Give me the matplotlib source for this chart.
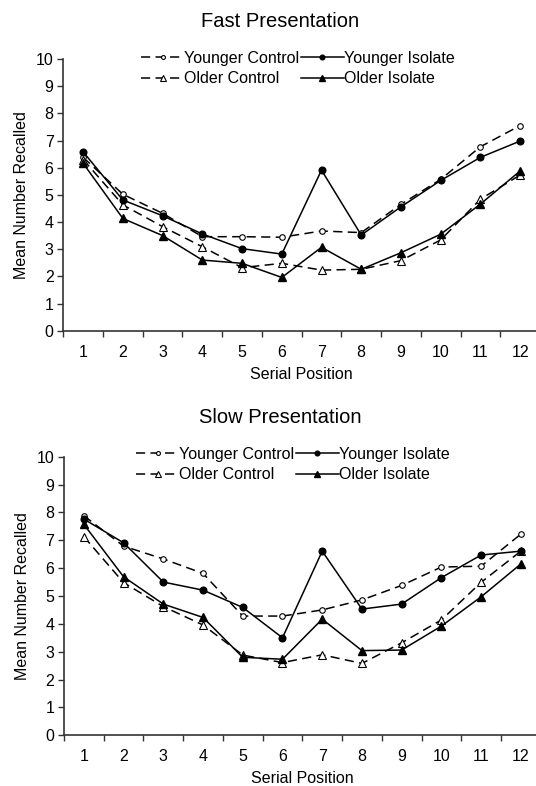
import matplotlib
matplotlib.use('Agg')
import matplotlib.pyplot as plt
import numpy as np

plt.rcParams['font.family'] = ['Liberation Sans', 'DejaVu Sans']

positions = list(range(1, 13))

# Fast presentation
fast_young_control = [6.38, 5.02, 4.32, 3.46, 3.46, 3.44, 3.67, 3.61, 4.65, 5.57, 6.77, 7.55]
fast_young_isolate = [6.58, 4.81, 4.23, 3.56, 3.02, 2.82, 5.91, 3.52, 4.56, 5.53, 6.38, 6.98]
fast_old_control = [6.30, 4.63, 3.83, 3.09, 2.32, 2.48, 2.23, 2.26, 2.58, 3.34, 4.84, 5.73]
fast_old_isolate = [6.16, 4.13, 3.50, 2.60, 2.48, 1.96, 3.07, 2.26, 2.87, 3.55, 4.66, 5.88]

# Slow presentation
slow_young_control = [7.88, 6.79, 6.33, 5.81, 4.28, 4.28, 4.50, 4.86, 5.38, 6.04, 6.07, 7.22]
slow_young_isolate = [7.76, 6.91, 5.50, 5.21, 4.59, 3.50, 6.61, 4.53, 4.71, 5.66, 6.47, 6.61]
slow_old_control = [7.13, 5.48, 4.62, 3.96, 2.88, 2.61, 2.89, 2.58, 3.32, 4.14, 5.49, 6.61]
slow_old_isolate = [7.57, 5.69, 4.71, 4.23, 2.80, 2.73, 4.17, 3.04, 3.06, 3.92, 4.97, 6.15]

W, H = 536, 786
fig = plt.figure(figsize=(W / 100, H / 100), dpi=100)

spine_col = '#333333'


def draw_panel(rect, title, title_base, legend_xy, yc, yi, oc, oi):
    ax = fig.add_axes(rect)
    dash = (6, 3.5)
    ax.plot(positions, yc, color='k', lw=1.1, dashes=dash, marker='o', ms=4,
            mfc='white', mec='k', mew=0.8, label='Younger Control')
    ax.plot(positions, oc, color='k', lw=1.1, dashes=dash, marker='^', ms=5.5,
            mfc='white', mec='k', mew=0.8, label='Older Control')
    ax.plot(positions, yi, color='k', lw=1.1, marker='o', ms=4.8,
            mfc='k', mec='k', label='Younger Isolate')
    ax.plot(positions, oi, color='k', lw=1.1, marker='^', ms=6.3,
            mfc='k', mec='k', label='Older Isolate')

    ax.set_xlim(0.5, 12.5)
    ax.set_ylim(0, 10)
    ax.set_yticks(range(0, 11))
    ax.set_xticks(np.arange(0.5, 12.6, 1.0))
    ax.set_xticklabels([])
    ax.set_xticks(positions, minor=True)
    ax.set_xticklabels([str(p) for p in positions], minor=True)
    ax.tick_params(axis='x', which='major', length=4, width=1, color=spine_col)
    ax.tick_params(axis='x', which='minor', length=0, pad=10, labelsize=11.5)
    ax.tick_params(axis='y', length=4, width=1, color=spine_col, pad=3, labelsize=11.5)
    for s in ['top', 'right']:
        ax.spines[s].set_visible(False)
    for s in ['left', 'bottom']:
        ax.spines[s].set_color(spine_col)
        ax.spines[s].set_linewidth(1.2)

    ax.set_xlabel('Serial Position', fontsize=11.5, labelpad=5)
    ax.set_ylabel('Mean Number Recalled', fontsize=11.5, labelpad=5)

    fig.text(280 / W, 1 - title_base / H, title, fontsize=14.5,
             ha='center', va='baseline')

    ax.legend(loc='upper left', bbox_to_anchor=(legend_xy[0] / W, 1 - legend_xy[1] / H),
              bbox_transform=fig.transFigure, ncol=2, frameon=False,
              fontsize=11.5, borderpad=0, borderaxespad=0, handlelength=2.7,
              handletextpad=0.0, columnspacing=0.1, labelspacing=0.33,
              markerscale=0.7)
    return ax


draw_panel([63.3 / W, 1 - 330.7 / H, 476.7 / W, 271.7 / H],
           'Fast Presentation', 26.7, (141, 51),
           fast_young_control, fast_young_isolate, fast_old_control, fast_old_isolate)

draw_panel([64 / W, 1 - 735.3 / H, 476.7 / W, 278.6 / H],
           'Slow Presentation', 423.3, (136, 447),
           slow_young_control, slow_young_isolate, slow_old_control, slow_old_isolate)

fig.savefig('out.png', dpi=100)
